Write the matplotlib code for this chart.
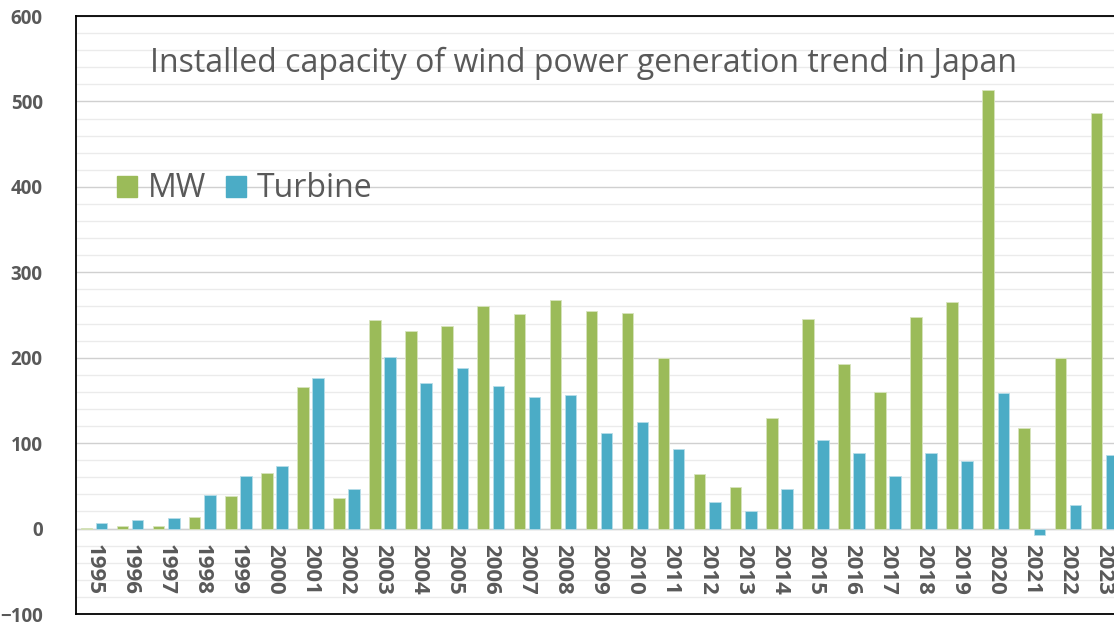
import numpy as np
import matplotlib
matplotlib.use("Agg")
import matplotlib.pyplot as plt
from matplotlib.patches import Patch
from matplotlib.ticker import MultipleLocator

years = [str(y) for y in range(1995, 2024)]
mw = [1, 3, 3, 14, 38, 65, 166, 36, 244, 231, 237, 261, 251, 267, 255, 252,
      200, 64, 49, 130, 245, 193, 160, 248, 265, 513, 118, 200, 487]
turbine = [6, 10, 12, 39, 62, 73, 176, 46, 201, 170, 188, 167, 154, 156, 112, 125,
           93, 31, 20, 46, 104, 89, 62, 89, 79, 159, -8, 28, 86]

GREEN = "#9BBB59"
BLUE = "#4BACC6"
GREY = "#595959"

fig = plt.figure(figsize=(11.14, 6.25), dpi=100)
# plot area runs past the right edge, as in the cropped original
ax = fig.add_axes([76 / 1114, 11 / 625, 1046 / 1114, 598 / 625])

x = np.arange(len(years))
w = 0.32
ax.bar(x - 0.21, mw, w, color=GREEN, edgecolor="#d7e4bd", linewidth=0.6, zorder=3)
ax.bar(x + 0.21, turbine, w, color=BLUE, edgecolor="#b7dde8", linewidth=0.6, zorder=3)

ax.set_xlim(-0.5, len(years) - 0.5)
ax.set_ylim(-100, 600)
ax.yaxis.set_major_locator(MultipleLocator(100))
ax.yaxis.set_minor_locator(MultipleLocator(20))
ax.grid(axis="y", which="major", color="#d0d0d0", linewidth=1.0, zorder=0)
ax.grid(axis="y", which="minor", color="#ebebeb", linewidth=1.0, zorder=0)
ax.axhline(0, color="#d9d9d9", linewidth=1.0, zorder=1)

for s in ax.spines.values():
    s.set_color("#000000")
    s.set_linewidth(1.3)

ax.set_xticks([])
ax.tick_params(axis="y", which="both", length=0, pad=24)
for lab in ax.get_yticklabels():
    lab.set_fontfamily("Open Sans")
    lab.set_fontweight("bold")
    lab.set_fontsize(13.5)
    lab.set_color(GREY)

for i, yr in enumerate(years):
    ax.text(i, -18, yr, rotation=-90, ha="center", va="top", fontsize=16,
            fontweight="bold", family="Open Sans", color=GREY)

ax.text(0.485, 0.921, "Installed capacity of wind power generation trend in Japan",
        transform=ax.transAxes, ha="center", va="center", fontsize=23,
        family="Open Sans", color=GREY)

handles = [Patch(facecolor=GREEN, edgecolor=GREEN), Patch(facecolor=BLUE, edgecolor=BLUE)]
ax.legend(handles, ["MW", "Turbine"], loc="center left", bbox_to_anchor=(0.039, 0.711),
          ncol=2, frameon=False, handlelength=0.63, handleheight=0.63,
          handletextpad=0.35, columnspacing=0.6, borderpad=0, borderaxespad=0,
          prop={"family": "Open Sans", "size": 23}, labelcolor=GREY)

fig.savefig("out.png", dpi=100)
